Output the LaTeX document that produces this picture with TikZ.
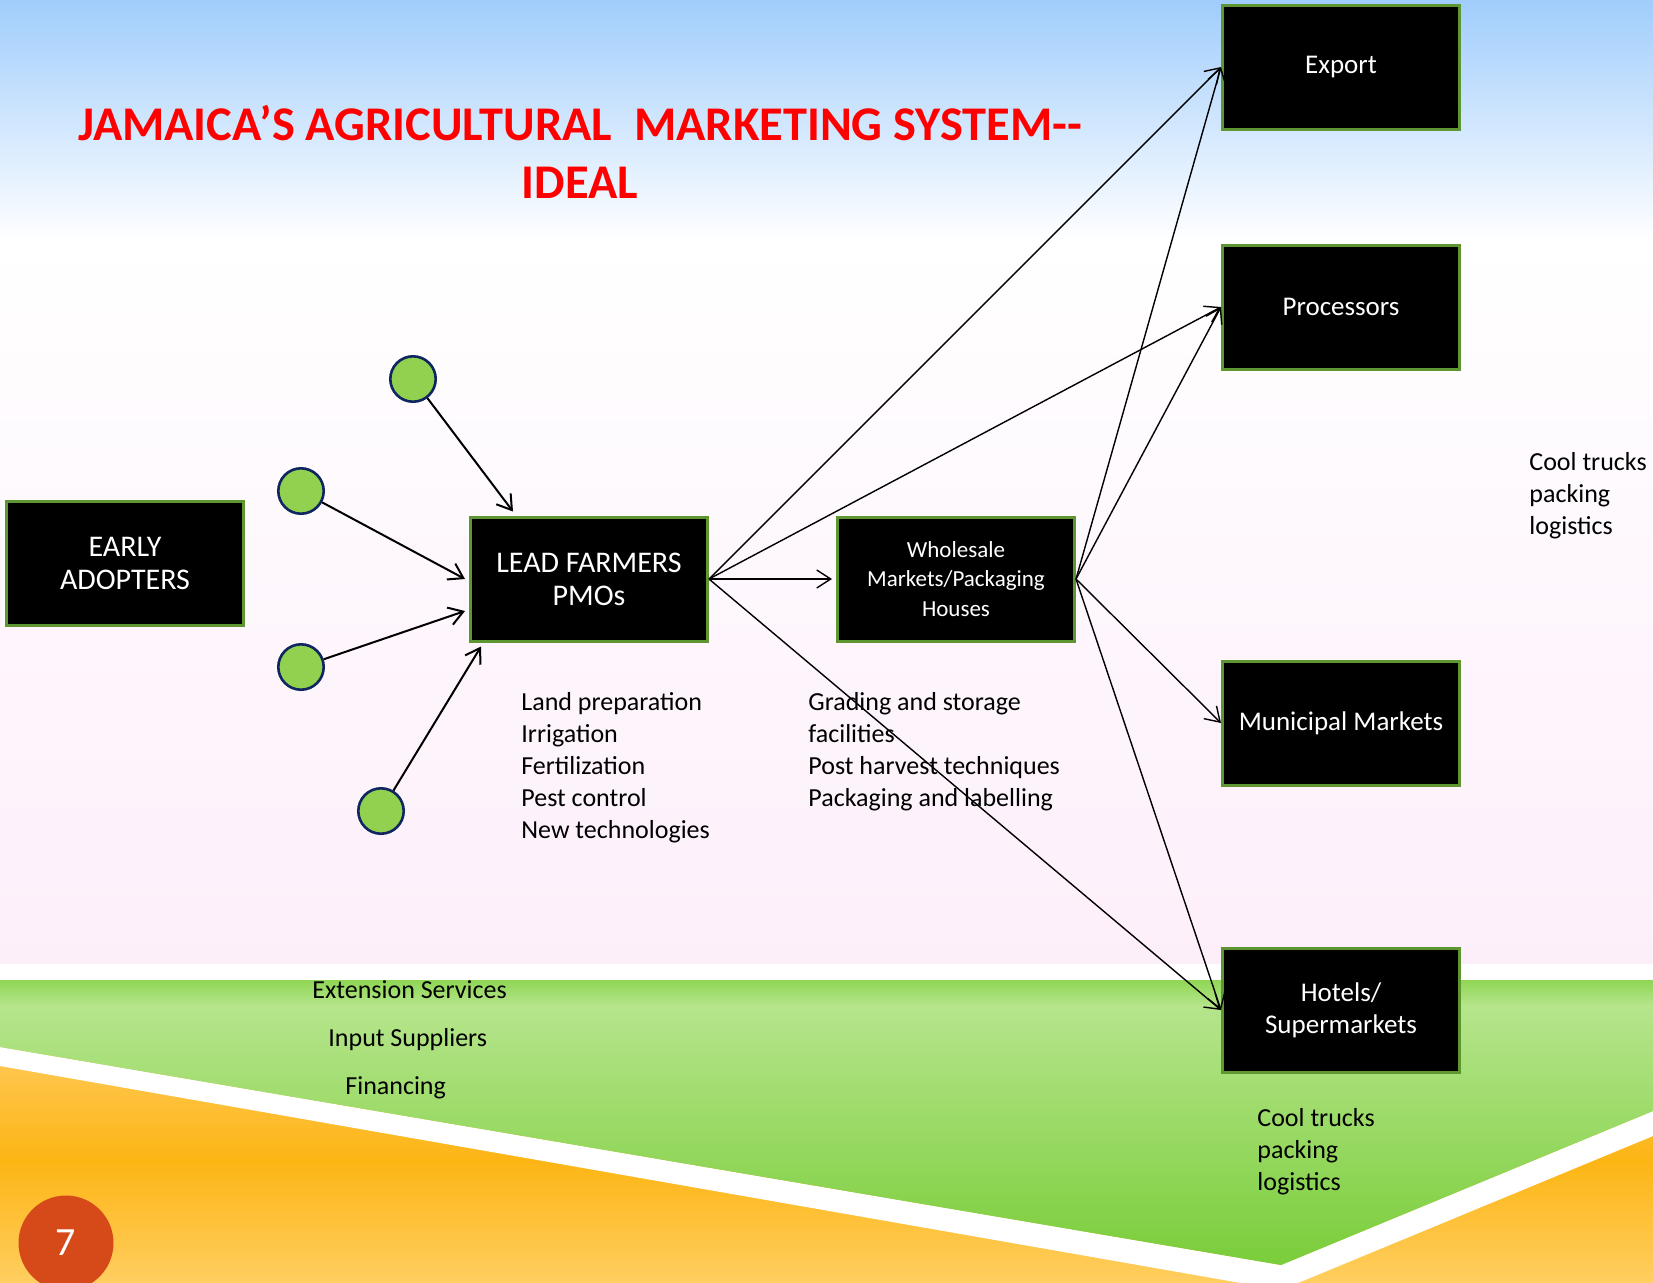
\documentclass[tikz,border=0pt]{standalone}
\usepackage{fontspec}
\setmainfont{Carlito}
\usetikzlibrary{arrows.meta}

\definecolor{skyblue}{RGB}{160,205,252}
\definecolor{blush}{RGB}{253,239,250}
\definecolor{grasstop}{RGB}{143,214,84}
\definecolor{grasslight}{RGB}{182,229,140}
\definecolor{grassdeep}{RGB}{122,205,58}
\definecolor{sunlight}{RGB}{255,213,128}
\definecolor{sundeep}{RGB}{253,181,20}
\definecolor{sunpale}{RGB}{255,206,96}
\definecolor{boxgreen}{RGB}{94,151,50}
\definecolor{dotgreen}{RGB}{146,208,80}
\definecolor{dotblue}{RGB}{16,38,96}
\definecolor{badge}{RGB}{214,74,26}
\definecolor{titlered}{RGB}{255,0,0}

\begin{document}
\begin{tikzpicture}[x=0.5pt,y=-0.5pt,
    >={Straight Barb[length=7pt,width=9pt]},
    box/.style={rectangle, draw=boxgreen, line width=1.5pt, fill=black, text=white,
      minimum width=118.5pt, minimum height=62pt, inner sep=2pt, align=center,
      font=\fontsize{13.5}{16}\selectfont},
    capsbox/.style={box, font=\fontsize{15}{16.5}\selectfont},
    dot/.style={circle, draw=dotblue, line width=1.3pt, fill=dotgreen,
      minimum size=22.7pt, inner sep=0pt},
    txt/.style={anchor=base west, align=left, inner sep=0pt,
      font=\fontsize{13}{16}\selectfont},
    feed/.style={->, line width=1pt},
    flow/.style={->, line width=0.7pt}]
  \useasboundingbox (0,0) rectangle (1653,1282);
  \shade[top color=skyblue, bottom color=white] (0,0) rectangle (1653,241);
  \shade[top color=white, bottom color=blush] (0,240) rectangle (1653,964);
  \fill[white] (0,964) rectangle (1653,980);
  \shade[top color=sunlight, bottom color=sundeep] (0,980) rectangle (1653,1161);
  \shade[top color=sundeep, bottom color=sunpale] (0,1160) rectangle (1653,1282);
  \fill[white] (0,1047) -- (1281,1265) -- (1653,1111) -- (1653,1136)
    -- (1281,1290) -- (0,1066) -- cycle;
  \begin{scope}
    \clip (0,980) -- (1653,980) -- (1653,1111) -- (1281,1265) -- (0,1047) -- cycle;
    \shade[top color=grasstop, bottom color=grasslight] (0,980) rectangle (1653,1006);
    \shade[top color=grasslight, bottom color=grassdeep] (0,1005) rectangle (1653,1265);
  \end{scope}

  % multi-line nodes sit on the baseline of their last line
  \node[font=\bfseries\fontsize{24.2}{29}\selectfont, text=titlered, align=center,
    anchor=base] (title) at (580,198)
    {JAMAICA’S AGRICULTURAL~~MARKETING SYSTEM-{}-\\IDEAL};

  \node[capsbox] (early) at (125,563) {EARLY\\ADOPTERS};
  \node[capsbox] (lead) at (589,579) {LEAD FARMERS\\PMOs};
  \node[box, font=\fontsize{11.5}{14.7}\selectfont] (whole) at (956,579)
    {Wholesale\\Markets/Packaging\\Houses};
  \node[box] (export) at (1341,67) {Export};
  \node[box] (proc) at (1341,307) {Processors};
  \node[box] (muni) at (1341,723) {Municipal Markets};
  \node[box] (hotel) at (1341,1010) {Hotels/\\Supermarkets};

  \node[dot] (c1) at (413,379) {};
  \node[dot] (c2) at (301,491) {};
  \node[dot] (c3) at (301,667) {};
  \node[dot] (c4) at (381,811) {};

  \draw[feed] (c1) -- ([xshift=22pt,yshift=2pt]lead.north west);
  \draw[feed] (c2) -- ([xshift=-2pt]lead.west);
  \draw[feed] (c3) -- ([xshift=-2pt,yshift=-16pt]lead.west);
  \draw[feed] (c4) -- ([xshift=6pt,yshift=-2pt]lead.south west);

  \draw[flow] (lead.east) -- ([xshift=-2pt]whole.west);
  \foreach \t in {export,proc,hotel}
    \draw[flow] (lead.east) -- (\t.west);
  \foreach \t in {export,proc,muni,hotel}
    \draw[flow] (whole.east) -- (\t.west);

  \node[txt] (tasks) at (521,838)
    {Land preparation\\Irrigation\\Fertilization\\Pest control\\New technologies};
  \node[txt] (handling) at (808,806)
    {Grading and storage\\facilities\\Post harvest techniques\\Packaging and labelling};
  \node[txt] (haul) at (1529,534) {Cool trucks\\packing\\logistics};
  \node[txt] (haul2) at (1257,1190) {Cool trucks\\packing\\logistics};
  \node[txt] (ext) at (312,998) {Extension Services};
  \node[txt] (input) at (328,1046) {Input Suppliers};
  \node[txt] (fin) at (345,1094) {Financing};

  \node[circle, fill=badge, minimum size=47.5pt, inner sep=0pt, text=white,
    font=\fontsize{20}{24}\selectfont] (page) at (66,1243) {7};
\end{tikzpicture}
\end{document}
